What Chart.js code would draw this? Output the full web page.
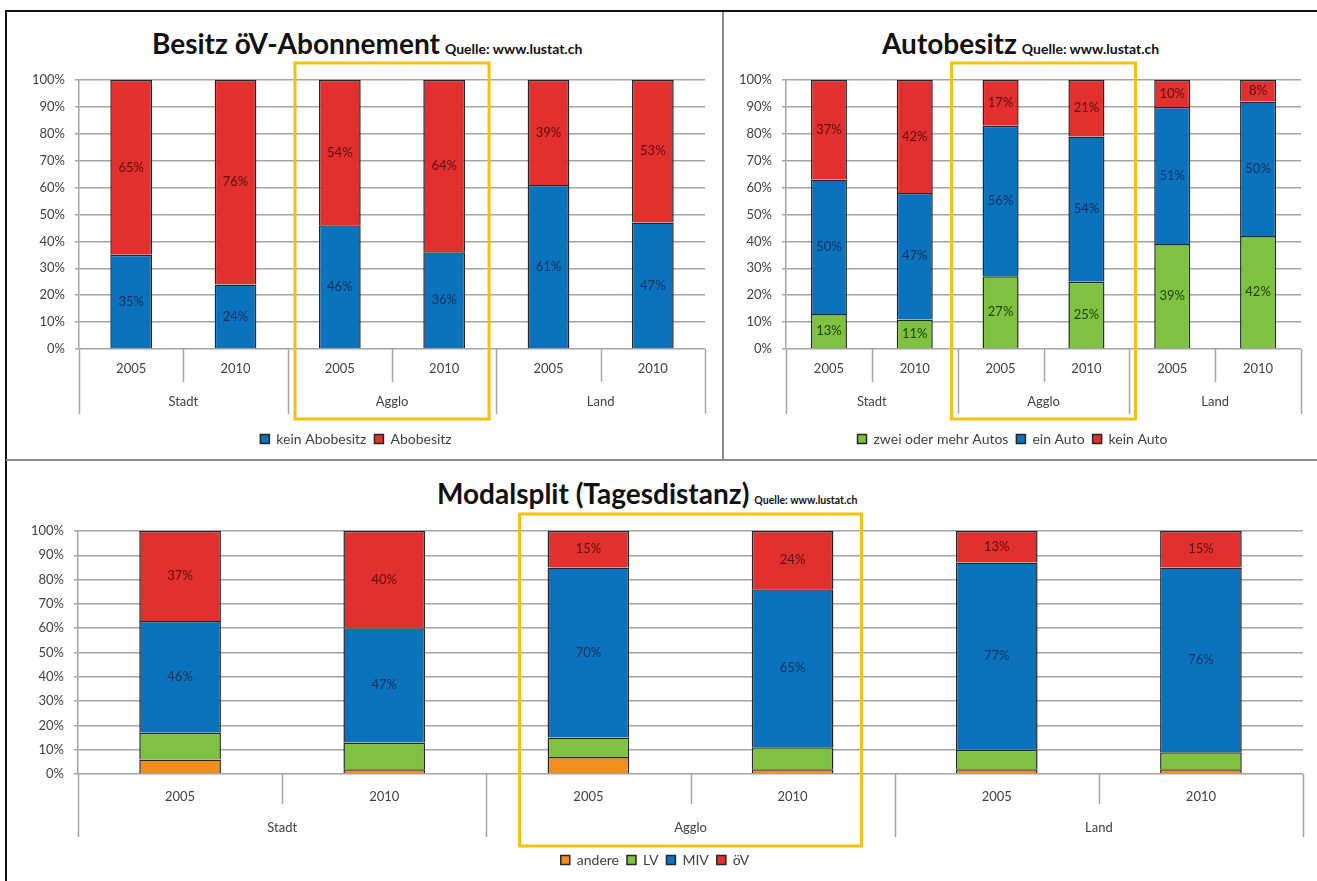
<!DOCTYPE html>
<html>
<head>
<meta charset="utf-8">
<script src="https://cdn.jsdelivr.net/npm/chart.js@4.4.1/dist/chart.umd.min.js"></script>
<style>
  body { margin: 0; background: #fff; font-family: Lato, 'Open Sans', sans-serif; }
  #page { position: relative; width: 1317px; height: 881px; overflow: hidden; }
  .box { position: absolute; }
  .title { position: absolute; white-space: nowrap; font-weight: bold; font-size: 28px; line-height: 30px; color: #111; }
  .title span { font-size: 14px; margin-left: 5px; }
  .title span.small { font-size: 10.5px; }
  .line { position: absolute; }
</style>
</head>
<body>
<div id="page">
  <!-- frame -->
  <div class="line" style="left:6px;top:10px;width:1311px;height:2px;background:#111"></div>
  <div class="line" style="left:5px;top:10px;width:2px;height:871px;background:#111"></div>
  <div class="line" style="left:722px;top:12px;width:2px;height:448px;background:#8a8a8a"></div>
  <div class="line" style="left:6px;top:459px;width:1311px;height:2px;background:#8a8a8a"></div>

  <div class="title" style="left:152px;top:28px">Besitz öV-Abonnement<span>Quelle: www.lustat.ch</span></div>
  <div class="title" style="left:882px;top:28px">Autobesitz<span>Quelle: www.lustat.ch</span></div>
  <div class="title" style="left:437px;top:478px">Modalsplit (Tagesdistanz)<span class="small">Quelle: www.lustat.ch</span></div>

  <div class="box" style="left:7px;top:12px;width:715px;height:446px"><canvas id="abo"></canvas></div>
  <div class="box" style="left:724px;top:12px;width:593px;height:446px"><canvas id="auto"></canvas></div>
  <div class="box" style="left:7px;top:461px;width:1310px;height:420px"><canvas id="modal"></canvas></div>
</div>

<script>
// categories
const years = ['2005', '2010', '2005', '2010', '2005', '2010'];
const groups = ['Stadt', 'Agglo', 'Land'];

// Besitz öV-Abonnement
const keinAbo = [35, 24, 46, 36, 61, 47];
const abo = [65, 76, 54, 64, 39, 53];

// Autobesitz
const zweiAutos = [13, 11, 27, 25, 39, 42];
const einAuto = [50, 47, 56, 54, 51, 50];
const keinAuto = [37, 42, 17, 21, 10, 8];

// Modalsplit
const andere = [6, 2, 7, 2, 2, 2];
const lv = [11, 11, 8, 9, 8, 7];
const miv = [46, 47, 70, 65, 77, 76];
const oev = [37, 40, 15, 24, 13, 15];

const yTicks = [0, 10, 20, 30, 40, 50, 60, 70, 80, 90, 100];

const BLUE = '#0b72bd', RED = '#e2302f', GREEN = '#7fc241', ORANGE = '#f18e1c';
const EDGE = '#262626';
const GRID = '#a4a4a4';
const TXT = '#404040';
const FONT = 'Lato, "Open Sans", sans-serif';

Chart.defaults.font.family = FONT;
Chart.defaults.color = TXT;

// draws year labels, group labels and the separator lines under the plot
const groupAxis = {
  id: 'groupAxis',
  afterDraw(chart, args, opts) {
    const {ctx, chartArea: a, scales: {x}} = chart;
    const px = i => x.getPixelForValue(i);
    const step = px(1) - px(0);
    ctx.save();
    ctx.strokeStyle = GRID;
    ctx.lineWidth = 1.5;
    for (let i = 0; i <= years.length; i++) {
      const sx = Math.round(px(0) - step / 2 + i * step) + 0.5;
      const len = i % 2 === 0 ? opts.longLen : opts.shortLen;
      ctx.beginPath();
      ctx.moveTo(sx, a.bottom);
      ctx.lineTo(sx, a.bottom + len);
      ctx.stroke();
    }
    ctx.fillStyle = TXT;
    ctx.font = '13px ' + FONT;
    ctx.textAlign = 'center';
    ctx.textBaseline = 'middle';
    years.forEach((y, i) => ctx.fillText(y, px(i), a.bottom + opts.yearY));
    groups.forEach((g, k) => ctx.fillText(g, (px(2 * k) + px(2 * k + 1)) / 2, a.bottom + opts.groupY));

    // yellow highlight around Agglo
    const half = step * opts.barPct / 2;
    const l = px(2) - half - opts.pad, r = px(3) + half + opts.pad;
    ctx.strokeStyle = '#f4c20d';
    ctx.lineWidth = 3;
    ctx.strokeRect(l, a.top - 17, r - l, a.bottom - a.top + 17 + opts.boxBottom);
    ctx.restore();
  }
};

// value labels centred in each segment
const segLabels = {
  id: 'segLabels',
  afterDatasetsDraw(chart) {
    const {ctx} = chart;
    ctx.save();
    ctx.font = '13px ' + FONT;
    ctx.textAlign = 'center';
    ctx.textBaseline = 'middle';
    chart.data.datasets.forEach((ds, di) => {
      if (!ds.labelColor) return;
      chart.getDatasetMeta(di).data.forEach((bar, i) => {
        ctx.fillStyle = ds.labelColor;
        ctx.fillText(ds.data[i] + '%', bar.x, (bar.y + bar.base) / 2);
      });
    });
    ctx.restore();
  }
};

function makeChart(id, datasets, o) {
  datasets.forEach(d => {
    d.borderColor = EDGE;
    d.borderWidth = 1.5;
    d.borderSkipped = 'bottom';
    d.barPercentage = o.barPct;
    d.categoryPercentage = 1;
  });
  return new Chart(document.getElementById(id), {
    type: 'bar',
    data: {labels: years, datasets: datasets},
    plugins: [groupAxis, segLabels],
    options: {
      responsive: true,
      maintainAspectRatio: false,
      animation: false,
      layout: {padding: {left: 0, right: o.padRight, top: o.padTop, bottom: o.padBottom}},
      plugins: {
        tooltip: {enabled: false},
        legend: {
          position: 'bottom',
          labels: {boxWidth: 9, boxHeight: 9, padding: 8, color: TXT, font: {size: 14}}
        },
        groupAxis: {
          longLen: o.longLen, shortLen: o.shortLen, yearY: o.yearY, groupY: o.groupY,
          barPct: o.barPct, pad: o.boxPad, boxBottom: o.boxBottom
        }
      },
      scales: {
        x: {
          stacked: true,
          grid: {display: false},
          border: {display: false},
          ticks: {display: false},
          afterFit: s => { s.height = o.xHeight; }
        },
        y: {
          stacked: true,
          min: 0,
          max: 100,
          afterBuildTicks: s => { s.ticks = yTicks.map(v => ({value: v})); },
          ticks: {callback: v => v + '%', color: TXT, font: {size: 13}, padding: 10},
          grid: {color: GRID, lineWidth: 1.5, tickLength: 4},
          border: {display: true, color: GRID, width: 1.5},
          afterFit: s => { s.width = o.yWidth; }
        }
      }
    }
  });
}

makeChart('abo', [
  {label: 'kein Abobesitz', data: keinAbo, backgroundColor: BLUE, labelColor: '#12305a'},
  {label: 'Abobesitz', data: abo, backgroundColor: RED, labelColor: '#5e0e0e'}
], {padRight: 17, padTop: 68, padBottom: 2, xHeight: 75, yWidth: 72, barPct: 0.40,
    longLen: 65, shortLen: 33, yearY: 20, groupY: 53, boxPad: 24, boxBottom: 70});

makeChart('auto', [
  {label: 'zwei oder mehr Autos', data: zweiAutos, backgroundColor: GREEN, labelColor: '#22400a'},
  {label: 'ein Auto', data: einAuto, backgroundColor: BLUE, labelColor: '#12305a'},
  {label: 'kein Auto', data: keinAuto, backgroundColor: RED, labelColor: '#5e0e0e'}
], {padRight: 16, padTop: 68, padBottom: 2, xHeight: 75, yWidth: 62, barPct: 0.42,
    longLen: 65, shortLen: 33, yearY: 20, groupY: 53, boxPad: 31, boxBottom: 70});

makeChart('modal', [
  {label: 'andere', data: andere, backgroundColor: ORANGE},
  {label: 'LV', data: lv, backgroundColor: GREEN},
  {label: 'MIV', data: miv, backgroundColor: BLUE, labelColor: '#12305a'},
  {label: 'öV', data: oev, backgroundColor: RED, labelColor: '#5e0e0e'}
], {padRight: 14, padTop: 70, padBottom: 4, xHeight: 71, yWidth: 71, barPct: 0.40,
    longLen: 63, shortLen: 30, yearY: 23, groupY: 54, boxPad: 28, boxBottom: 72});
</script>
</body>
</html>
